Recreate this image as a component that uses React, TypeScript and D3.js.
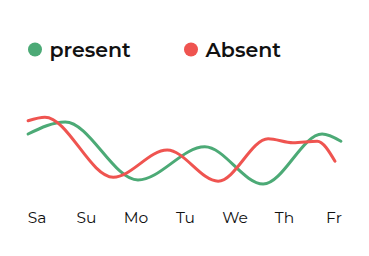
import React from "react";
import * as d3 from "d3";

const days = ["Sa", "Su", "Mo", "Tu", "We", "Th", "Fr"];
// [day position (fractional index), value]
const presentX = [-0.18, 0.57, 2.04, 3.39, 4.57, 5.76, 6.14];
const presentY = [70, 85, 12.5, 54, 7.5, 70, 61];
const absentX = [-0.18, 0.16, 1.54, 2.63, 3.66, 4.67, 5.17, 5.66, 6.02];
const absentY = [86.6, 91, 16, 50, 11, 64, 59, 61, 36];
const seriesNames = ["present", "Absent"];
const colors = ["#4CAA76", "#EF5450"];

export default function App() {
  const W = 369, H = 256;
  const x = d3.scaleLinear().domain([0, 6]).range([37, 334]);
  const y = d3.scaleLinear().domain([0, 100]).range([190, 110]);
  const line = d3
    .line<[number, number]>()
    .x((d) => x(d[0]))
    .y((d) => y(d[1]))
    .curve(d3.curveMonotoneX);
  const p = presentX.map((v, i) => [v, presentY[i]] as [number, number]);
  const a = absentX.map((v, i) => [v, absentY[i]] as [number, number]);
  const font = "Montserrat, 'Open Sans', sans-serif";
  const legendPos = [
    { cx: 35, tx: 49.5 },
    { cx: 191, tx: 205.5 },
  ];
  return (
    <svg
      width={W}
      height={H}
      style={{ position: "absolute", left: 0, top: 0 }}
    >
      <rect width={W} height={H} fill="#fff" />
      {seriesNames.map((n, i) => (
        <g key={n}>
          <circle cx={legendPos[i].cx} cy={49.5} r={7} fill={colors[i]} />
          <text
            x={legendPos[i].tx}
            y={56.5}
            fontFamily={font}
            fontWeight={600}
            fontSize={20.5}
            fill="#111"
          >
            {n}
          </text>
        </g>
      ))}
      <path d={line(p) || ""} fill="none" stroke={colors[0]} strokeWidth={3} strokeLinecap="round" />
      <path d={line(a) || ""} fill="none" stroke={colors[1]} strokeWidth={3} strokeLinecap="round" />
      {days.map((d, i) => (
        <text
          key={d}
          x={x(i)}
          y={223}
          textAnchor="middle"
          fontFamily={font}
          fontSize={15.5}
          fill="#111"
        >
          {d}
        </text>
      ))}
    </svg>
  );
}
